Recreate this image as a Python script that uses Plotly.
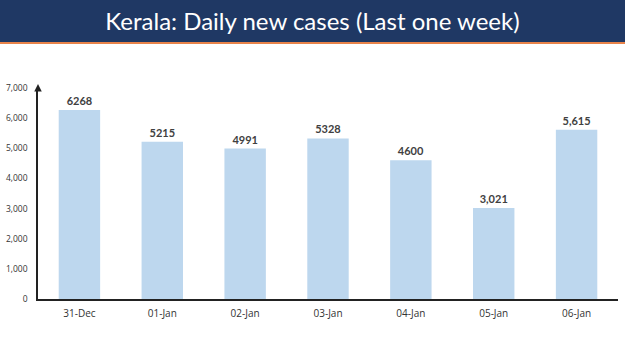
import plotly.graph_objects as go

dates = ["31-Dec", "01-Jan", "02-Jan", "03-Jan", "04-Jan", "05-Jan", "06-Jan"]
cases = [6268, 5215, 4991, 5328, 4600, 3021, 5615]
labels = ["6268", "5215", "4991", "5328", "4600", "3,021", "5,615"]
y_ticks = [0, 1000, 2000, 3000, 4000, 5000, 6000, 7000]

W, H = 625, 351
L, R, T, B = 38, 7, 88, 52
pw, ph = W - L - R, H - T - B

def px_x(p):
    return (p - L) / pw

def px_y(p):
    return 1 - (p - T) / ph

fig = go.Figure(go.Bar(
    x=dates, y=cases, text=labels, textposition="outside",
    textfont=dict(family="Lato", size=11, color="#404040"),
    texttemplate="<b>%{text}</b>",
    marker=dict(color="#bdd7ee", line=dict(width=0)),
    width=0.5, cliponaxis=False,
))

fig.update_layout(
    width=W, height=H,
    margin=dict(l=L, r=R, t=T, b=B),
    paper_bgcolor="white", plot_bgcolor="white",
    showlegend=False,
    title=dict(text="Kerala: Daily new cases (Last one week)",
               x=0.5, xanchor="center", xref="container",
               y=1 - 22 / H, yanchor="middle", yref="container",
               font=dict(family="Lato", size=24, color="white")),
    xaxis=dict(showline=True, linecolor="#222", linewidth=1.5,
               ticks="outside", ticklen=4, tickcolor="rgba(0,0,0,0)",
               tickfont=dict(family="Open Sans", size=10, color="#333"),
               showgrid=False),
    yaxis=dict(range=[0, 7000], tickvals=y_ticks, tickformat=",",
               showline=True, linecolor="#222", linewidth=1.5,
               ticks="outside", ticklen=7, tickcolor="rgba(0,0,0,0)",
               showgrid=False, zeroline=False,
               tickfont=dict(family="Open Sans", size=8.5, color="#333")),
    shapes=[
        dict(type="rect", xref="paper", yref="paper",
             x0=px_x(0), x1=px_x(W), y0=px_y(42), y1=px_y(0),
             fillcolor="#1f3864", line=dict(width=0), layer="below"),
        dict(type="rect", xref="paper", yref="paper",
             x0=px_x(0), x1=px_x(W), y0=px_y(44), y1=px_y(42),
             fillcolor="#e8834a", line=dict(width=0), layer="below"),
    ],
    annotations=[
        dict(x=0, y=px_y(84), xref="paper", yref="paper", ax=0, ay=6,
             showarrow=True, arrowhead=2, arrowsize=1, arrowwidth=1.5,
             arrowcolor="#222", text=""),
    ],
)

fig.write_html("out.html")
